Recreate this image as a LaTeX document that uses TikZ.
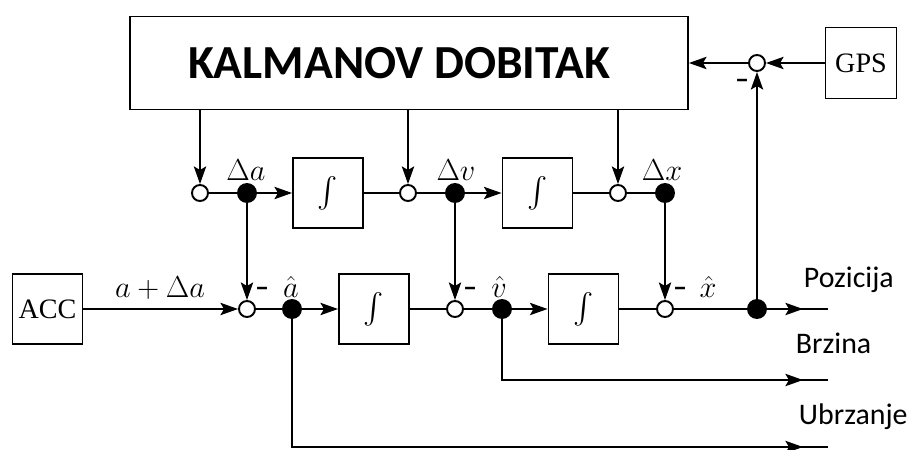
\documentclass[tikz,border=0pt]{standalone}
\usepackage{amsmath}
\usepackage{exscale}
\usepackage{fontspec}
\newfontfamily\kalfont[Ligatures=TeX]{Carlito}
\newfontfamily\blokfont{Liberation Serif}
\usetikzlibrary{arrows.meta, calc, positioning, decorations.markings}

\begin{document}
\begin{tikzpicture}[x=0.02cm, y=-0.02cm, line width=1.1pt,
	>={Stealth[length=10pt, width=7pt, inset=2pt]},
	blok/.style={shape=rectangle, minimum height=1.4cm, minimum width=1.4cm, inner sep=0pt, draw=black, fill=white, font=\blokfont\fontsize{16}{19}\selectfont},
	zbir/.style={shape=circle, minimum size=0.32cm, inner sep=0pt, draw=black, fill=white},
	tacka/.style={shape=circle, minimum size=0.36cm, inner sep=0pt, draw=black, fill=black},
	oznaka/.style={anchor=base, inner sep=0pt, font=\fontsize{17}{20}\selectfont},
	znak/.style={inner sep=0pt, font=\kalfont\bfseries\fontsize{16}{19}\selectfont},
	tekst/.style={anchor=base west, inner sep=0pt, font=\kalfont\fontsize{17}{20}\selectfont},
	izlaz/.style={decoration={markings, mark=at position -0.5cm with {\arrow{>}}}, postaction={decorate}}]
\useasboundingbox (0,0) rectangle (914,450);

% blokovi
\node[blok, minimum height=1.86cm, minimum width=11.16cm, font=\kalfont\bfseries\fontsize{27}{32}\selectfont] (kal) at (409,63) {KALMANOV DOBITAK\hspace*{0.4cm}};
\node[blok, minimum height=1.42cm, minimum width=1.42cm] (gps) at (861,63) {GPS};
\node[blok] (acc) at (47.5,309) {ACC};
\node[blok] (i1) at (328,193) {$\int$};
\node[blok] (i2) at (537.5,193) {$\int$};
\node[blok] (j1) at (374,309) {$\int$};
\node[blok] (j2) at (583.5,309) {$\int$};

% sabiraci i cvorovi
\node[zbir] (s0) at (757,63) {};
\node[znak] (m0) at (742,84) {--};
\foreach \i/\cx/\dx in {1/200/247, 2/408/455, 3/618/665}{
	\node[zbir] (c\i) at (\cx,193) {};
	\node[tacka] (d\i) at (\dx,193) {};
}
\foreach \i/\ex/\fx in {1/247/292, 2/455/502, 3/665/757}{
	\node[zbir] (e\i) at (\ex,309) {};
	\node[tacka] (f\i) at (\fx,309) {};
	\node[znak] (m\i) at (\ex+15,292) {--};
}

% oznake
\node[oznaka] (la) at (246,180) {$\Delta a$};
\node[oznaka] (lv) at (456,180) {$\Delta v$};
\node[oznaka] (lx) at (662,180) {$\Delta x$};
\node[oznaka] (lacc) at (160,297) {$a + \Delta a$};
\node[oznaka] (lah) at (291,297) {$\hat{a}$};
\node[oznaka] (lvh) at (499,297) {$\hat{v}$};
\node[oznaka] (lxh) at (708,297) {$\hat{x}$};

% izlazi
\coordinate (poz) at (828,309);
\coordinate (brz) at (828,380);
\coordinate (ubr) at (828,447);
\node[tekst] (tpoz) at (803,287) {Pozicija};
\node[tekst] (tbrz) at (795,353) {Brzina};
\node[tekst] (tubr) at (798,424) {Ubrzanje};

% veze
\draw[->] (gps) -- (s0);
\draw[->] (s0) -- (kal);
\draw[->] (f3) -- (s0);
\foreach \i in {1,2,3}{
	\draw[->] (kal.south -| c\i) -- (c\i);
	\draw[->] (d\i) -- (e\i);
}
\draw (c1) -- (d1);
\draw[->] (d1) -- (i1);
\draw (i1) -- (c2);
\draw (c2) -- (d2);
\draw[->] (d2) -- (i2);
\draw (i2) -- (c3);
\draw (c3) -- (d3);
\draw[->] (acc) -- (e1);
\draw (e1) -- (f1);
\draw[->] (f1) -- (j1);
\draw (j1) -- (e2);
\draw (e2) -- (f2);
\draw[->] (f2) -- (j2);
\draw (j2) -- (e3);
\draw (e3) -- (f3);
\draw[izlaz] (f3) -- (poz);
\draw[izlaz] (f2) |- (brz);
\draw[izlaz] (f1) |- (ubr);
\end{tikzpicture}
\end{document}
